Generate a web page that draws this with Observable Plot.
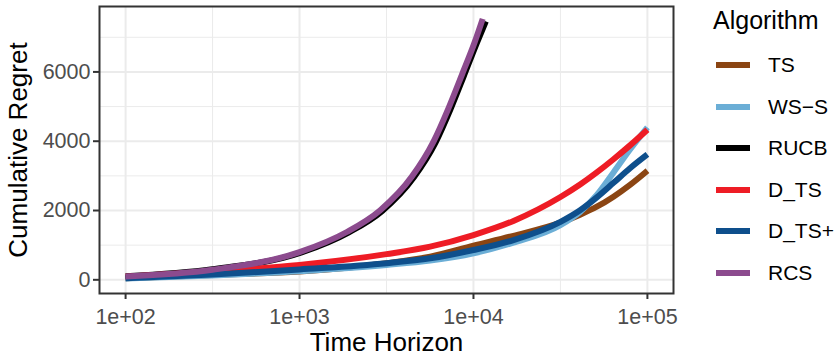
<!DOCTYPE html>
<html><head><meta charset="utf-8">
<script src="https://cdn.jsdelivr.net/npm/d3@7"></script>
<script src="https://cdn.jsdelivr.net/npm/@observablehq/plot@0.6"></script>
<style>
html,body{margin:0;padding:0;background:#fff;}
#wrap{position:relative;width:837px;height:358px;font-family:"Liberation Sans",Arial,Helvetica,sans-serif;}
#legend{position:absolute;left:0;top:0;width:837px;height:358px;pointer-events:none;}
.ltitle{position:absolute;left:713px;top:4px;font-size:25px;color:#000;line-height:32px;}
.litem{position:absolute;left:716px;height:30px;}
.lkey{position:absolute;left:0;top:12px;width:34px;height:6px;}
.llab{position:absolute;left:52px;top:0;font-size:21px;line-height:30px;color:#000;white-space:nowrap;}
</style></head><body>
<div id="wrap"><div id="legend"></div></div>
<script>
// categories and colours
const algorithms = ["TS", "WS\u2212S", "RUCB", "D_TS", "D_TS+", "RCS"];
const colors = ["#8B4513", "#6BAED6", "#000000", "#EE1C25", "#0E4F8C", "#8C4B8E"];

// time horizons (x values)
const horizonLow = [100, 316, 1000, 3162, 5636, 10000, 16980, 31623, 41020, 51170, 63830, 79430, 100000];
const horizonRCS = [100, 316, 1000, 1871, 2912, 4426, 5892, 7180, 8568, 10140, 11300];
const horizonRUCB = [100, 316, 1027, 1922, 2990, 4545, 6051, 7374, 8799, 10410, 11780];

// cumulative regret per algorithm
const regretTS = [45, 140, 239, 478, 669, 985, 1270, 1650, 1880, 2110, 2400, 2740, 3150];
const regretWSS = [40, 125, 250, 430, 555, 765, 1075, 1580, 1960, 2450, 3100, 3760, 4400];
const regretDTS = [90, 240, 430, 741, 956, 1291, 1700, 2390, 2750, 3100, 3480, 3880, 4330];
const regretDTSplus = [45, 150, 300, 478, 620, 860, 1147, 1673, 2008, 2380, 2800, 3220, 3620];
const regretRCS = [95, 290, 800, 1380, 2010, 2980, 3990, 4950, 5910, 6845, 7530];
const regretRUCB = [100, 305, 790, 1370, 1990, 2960, 3960, 4920, 5880, 6810, 7460];

// tick labels
const xTicks = [100, 1000, 10000, 100000];
const xTickLabels = ["1e+02", "1e+03", "1e+04", "1e+05"];
const xMinor = [316.23, 3162.3, 31623];
const yTicks = [0, 2000, 4000, 6000];
const yMinor = [1000, 3000, 5000, 7000];

const series = [
  ["TS", horizonLow, regretTS],
  ["WS\u2212S", horizonLow, regretWSS],
  ["RUCB", horizonRUCB, regretRUCB],
  ["D_TS", horizonLow, regretDTS],
  ["D_TS+", horizonLow, regretDTSplus],
  ["RCS", horizonRCS, regretRCS]
];
const rows = series.flatMap(([alg, ts, rs]) => ts.map((t, i) => ({alg, t, r: rs[i]})));

const grid = "#EBEBEB";
const chart = Plot.plot({
  width: 837, height: 358,
  marginLeft: 99, marginRight: 164, marginTop: 6, marginBottom: 65,
  style: {fontFamily: "'Liberation Sans', Arial, Helvetica, sans-serif", background: "#fff"},
  x: {type: "log", domain: [Math.pow(10, 1.85), Math.pow(10, 5.15)]},
  y: {domain: [-395, 7888]},
  color: {domain: algorithms, range: colors},
  marks: [
    Plot.gridX(xMinor, {stroke: grid, strokeOpacity: 1, strokeWidth: 1}),
    Plot.gridY(yMinor, {stroke: grid, strokeOpacity: 1, strokeWidth: 1}),
    Plot.gridX(xTicks, {stroke: grid, strokeOpacity: 1, strokeWidth: 2}),
    Plot.gridY(yTicks, {stroke: grid, strokeOpacity: 1, strokeWidth: 2}),
    Plot.line(rows, {x: "t", y: "r", z: "alg", stroke: "alg", strokeWidth: 6, curve: "monotone-x", strokeLinecap: "butt", strokeLinejoin: "round"}),
    Plot.frame({stroke: "#333333", strokeWidth: 2}),
    Plot.axisX(xTicks, {tickFormat: (d) => xTickLabels[xTicks.indexOf(d)], tickSize: 6, tickPadding: 9, fontSize: 21.5, fill: "#4D4D4D", stroke: "#333333", strokeWidth: 2, label: null}),
    Plot.axisX([], {label: "Time Horizon", labelAnchor: "center", labelArrow: "none", labelOffset: 57, fontSize: 26, fill: "#000", tickSize: 0}),
    Plot.axisY(yTicks, {tickFormat: d3.format("d"), tickSize: 6, tickPadding: 3, fontSize: 21.5, fill: "#4D4D4D", stroke: "#333333", strokeWidth: 2, label: null}),
    Plot.axisY([], {label: "Cumulative Regret", labelAnchor: "center", labelArrow: "none", labelOffset: 91, fontSize: 26, fill: "#000", tickSize: 0})
  ]
});
document.getElementById("wrap").prepend(chart);

// legend
const legend = document.getElementById("legend");
const title = document.createElement("div");
title.className = "ltitle";
title.textContent = "Algorithm";
legend.appendChild(title);
const keyCenters = [65, 107, 148, 190, 231, 273];
algorithms.forEach((a, i) => {
  const item = document.createElement("div");
  item.className = "litem";
  item.style.top = (keyCenters[i] - 15) + "px";
  const key = document.createElement("div");
  key.className = "lkey";
  key.style.background = colors[i];
  const lab = document.createElement("div");
  lab.className = "llab";
  lab.textContent = a;
  item.appendChild(key);
  item.appendChild(lab);
  legend.appendChild(item);
});
</script>
</body></html>
